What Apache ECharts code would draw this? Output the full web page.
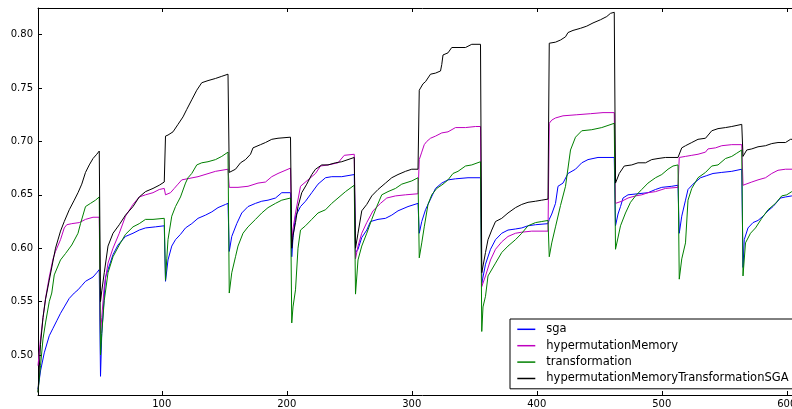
<!DOCTYPE html>
<html><head><meta charset="utf-8">
<script src="https://cdn.jsdelivr.net/npm/echarts@6/dist/echarts.min.js"></script>
<style>html,body{margin:0;padding:0;background:#fff;overflow:hidden;width:792px;height:409px}#c{width:812px;height:409px}</style>
</head><body><div id="c"></div>
<script>
const seriesNames = ['sga', 'hypermutationMemory', 'transformation', 'hypermutationMemoryTransformationSGA'];
const seriesColors = ['#0000ff', '#bf00bf', '#008000', '#000000'];
const xTicks = [100, 200, 300, 400, 500, 600];
const yTicks = [0.50, 0.55, 0.60, 0.65, 0.70, 0.75, 0.80];
const xRange = [1, 616];
const yRange = [0.4625, 0.825];

const sga = [
[1,0.468],[3,0.485],[6,0.502],[10,0.518],[13,0.525],[16,0.532],[19,0.539],[22,0.545],[26,0.553],[30,0.558],[33,0.561],[36,0.565],[39,0.569],[45,0.573],[48,0.577],[50,0.580],
[51,0.48],[52,0.52],[55,0.573],[61,0.594],[65,0.603],[71,0.611],[77,0.614],[82,0.617],[87,0.619],[95,0.620],[102,0.621],
[103,0.569],[105,0.589],[108,0.602],[111,0.608],[115,0.613],[119,0.619],[124,0.623],[129,0.628],[135,0.631],[140,0.634],[145,0.638],[151,0.641],[153,0.642],
[154,0.597],[156,0.611],[160,0.623],[164,0.633],[169,0.639],[175,0.642],[180,0.644],[185,0.645],[191,0.647],[196,0.652],[203,0.652],
[204,0.592],[205,0.610],[207,0.630],[211,0.639],[215,0.644],[220,0.652],[225,0.660],[231,0.666],[236,0.667],[244,0.667],[254,0.669],
[255,0.596],[257,0.599],[260,0.610],[264,0.617],[267,0.625],[273,0.627],[279,0.628],[284,0.631],[289,0.635],[297,0.639],[305,0.642],
[306,0.614],[308,0.625],[311,0.636],[315,0.646],[319,0.656],[324,0.661],[329,0.664],[335,0.665],[345,0.666],[355,0.666],
[356,0.567],[359,0.585],[363,0.599],[367,0.608],[372,0.614],[377,0.617],[383,0.618],[388,0.619],[393,0.621],[399,0.622],[409,0.623],
[410,0.627],[412,0.632],[415,0.642],[417,0.658],[421,0.661],[425,0.670],[431,0.674],[436,0.680],[441,0.683],[449,0.685],[462,0.685],
[463,0.621],[465,0.632],[467,0.639],[469,0.647],[473,0.650],[489,0.652],[495,0.655],[500,0.657],[508,0.658],[513,0.659],
[514,0.614],[516,0.630],[519,0.645],[521,0.655],[525,0.660],[531,0.666],[536,0.668],[541,0.670],[548,0.671],[556,0.672],[564,0.674],
[565,0.582],[566,0.608],[569,0.619],[573,0.624],[577,0.626],[581,0.630],[585,0.635],[589,0.639],[595,0.647],[599,0.648],[604,0.649],[610,0.650],[616,0.651]
];

const hypermutationMemory = [
[1,0.49],[3,0.515],[5,0.535],[7,0.553],[10,0.573],[13,0.590],[15,0.597],[19,0.608],[22,0.619],[24,0.622],[28,0.623],[34,0.624],[39,0.627],[45,0.629],[50,0.629],
[51,0.52],[52,0.535],[54,0.564],[57,0.586],[61,0.600],[66,0.614],[71,0.630],[77,0.641],[82,0.648],[87,0.650],[93,0.652],[98,0.655],[102,0.656],
[103,0.650],[107,0.652],[110,0.656],[113,0.660],[116,0.664],[129,0.667],[143,0.672],[153,0.674],
[154,0.657],[161,0.657],[169,0.658],[177,0.661],[183,0.662],[188,0.667],[193,0.670],[203,0.675],
[204,0.605],[205,0.618],[207,0.633],[211,0.658],[213,0.660],[217,0.664],[223,0.670],[227,0.677],[233,0.678],[241,0.680],[246,0.687],[254,0.688],
[255,0.590],[257,0.602],[260,0.614],[264,0.624],[269,0.635],[275,0.642],[280,0.647],[287,0.649],[295,0.650],[305,0.651],
[306,0.683],[308,0.690],[310,0.697],[312,0.700],[315,0.703],[319,0.705],[324,0.708],[329,0.709],[335,0.713],[343,0.713],[351,0.714],[355,0.714],
[356,0.564],[359,0.574],[363,0.589],[367,0.599],[372,0.606],[377,0.611],[383,0.614],[388,0.615],[396,0.616],[409,0.616],
[410,0.717],[412,0.720],[415,0.722],[421,0.724],[432,0.725],[443,0.726],[453,0.727],[462,0.727],
[463,0.642],[468,0.644],[473,0.647],[479,0.649],[484,0.650],[489,0.652],[495,0.653],[503,0.656],[513,0.657],
[514,0.685],[519,0.686],[524,0.687],[529,0.688],[535,0.690],[537,0.693],[543,0.694],[548,0.696],[556,0.697],[564,0.697],
[565,0.659],[572,0.662],[577,0.664],[583,0.666],[588,0.670],[593,0.673],[599,0.674],[610,0.674],[616,0.675]
];

const transformation = [
[1,0.465],[3,0.49],[5,0.515],[7,0.53],[10,0.55],[12,0.558],[14,0.575],[19,0.589],[23,0.595],[28,0.603],[33,0.614],[35,0.623],[39,0.639],[43,0.642],[47,0.645],[50,0.648],
[51,0.50],[52,0.52],[54,0.551],[57,0.577],[61,0.592],[66,0.603],[71,0.613],[77,0.620],[82,0.623],[87,0.627],[93,0.627],[102,0.628],
[103,0.570],[104,0.59],[105,0.608],[108,0.630],[111,0.639],[115,0.648],[119,0.661],[121,0.666],[124,0.670],[128,0.678],[132,0.680],[137,0.681],[143,0.683],[148,0.686],[153,0.690],
[154,0.558],[156,0.577],[159,0.592],[161,0.602],[165,0.614],[169,0.620],[175,0.627],[180,0.633],[185,0.638],[191,0.642],[196,0.645],[203,0.647],
[204,0.530],[205,0.545],[207,0.561],[209,0.600],[211,0.617],[215,0.621],[220,0.627],[225,0.633],[231,0.636],[236,0.642],[241,0.647],[247,0.653],[254,0.659],
[255,0.557],[257,0.589],[260,0.602],[264,0.614],[268,0.627],[272,0.639],[276,0.650],[281,0.653],[287,0.656],[292,0.660],[300,0.663],[305,0.666],
[306,0.591],[308,0.605],[310,0.620],[313,0.641],[316,0.650],[320,0.656],[325,0.660],[329,0.664],[333,0.670],[337,0.672],[343,0.677],[348,0.678],[355,0.681],
[356,0.522],[357,0.545],[359,0.555],[361,0.574],[367,0.586],[372,0.596],[377,0.602],[383,0.608],[388,0.614],[393,0.621],[399,0.624],[404,0.625],[409,0.626],
[410,0.592],[412,0.605],[415,0.620],[419,0.640],[423,0.658],[427,0.692],[431,0.704],[436,0.710],[444,0.711],[452,0.713],[462,0.717],
[463,0.599],[467,0.621],[471,0.633],[475,0.643],[479,0.649],[484,0.655],[489,0.661],[495,0.666],[500,0.669],[505,0.674],[509,0.677],[513,0.678],
[514,0.571],[516,0.590],[519,0.605],[521,0.645],[524,0.656],[529,0.666],[535,0.671],[540,0.677],[545,0.678],[551,0.684],[556,0.686],[560,0.689],[564,0.692],
[565,0.574],[567,0.605],[571,0.614],[575,0.619],[580,0.628],[585,0.636],[591,0.642],[596,0.649],[600,0.650],[604,0.653],[610,0.656],[616,0.658]
];

const hypermutationMemoryTransformationSGA = [
[1,0.465],[3,0.51],[5,0.535],[7,0.552],[10,0.570],[15,0.600],[19,0.616],[22,0.625],[26,0.636],[30,0.645],[33,0.652],[36,0.660],[39,0.671],[42,0.678],[45,0.684],[48,0.688],[50,0.691],
[51,0.55],[52,0.56],[54,0.577],[57,0.602],[61,0.614],[66,0.622],[71,0.631],[77,0.639],[82,0.648],[87,0.653],[93,0.656],[98,0.659],[102,0.662],
[103,0.705],[105,0.706],[109,0.709],[113,0.716],[117,0.723],[120,0.730],[124,0.739],[128,0.748],[132,0.755],[137,0.757],[143,0.759],[148,0.761],[153,0.763],
[154,0.671],[159,0.674],[163,0.680],[167,0.683],[171,0.688],[173,0.694],[179,0.697],[183,0.699],[188,0.702],[193,0.703],[203,0.704],
[204,0.600],[205,0.612],[207,0.624],[209,0.639],[212,0.652],[216,0.660],[220,0.669],[223,0.674],[228,0.678],[233,0.678],[239,0.680],[244,0.681],[249,0.683],[254,0.685],
[255,0.600],[257,0.614],[260,0.635],[264,0.641],[268,0.649],[273,0.655],[279,0.661],[284,0.666],[289,0.669],[295,0.672],[300,0.674],[305,0.674],
[306,0.748],[307,0.750],[309,0.754],[311,0.756],[315,0.763],[319,0.764],[323,0.766],[324,0.772],[325,0.781],[329,0.783],[332,0.788],[337,0.788],[343,0.788],[348,0.791],[355,0.791],
[356,0.577],[359,0.596],[361,0.608],[364,0.617],[367,0.625],[372,0.628],[377,0.633],[383,0.638],[388,0.641],[393,0.643],[399,0.644],[404,0.645],[409,0.646],
[410,0.792],[415,0.793],[419,0.795],[423,0.798],[425,0.802],[429,0.804],[435,0.806],[440,0.808],[445,0.811],[451,0.814],[456,0.817],[459,0.820],[462,0.821],
[463,0.661],[466,0.670],[470,0.677],[476,0.678],[481,0.680],[487,0.680],[492,0.683],[497,0.684],[503,0.685],[513,0.685],
[514,0.686],[516,0.694],[519,0.696],[524,0.699],[529,0.702],[535,0.703],[540,0.710],[545,0.712],[551,0.713],[556,0.714],[564,0.716],
[565,0.686],[568,0.692],[572,0.693],[577,0.695],[583,0.696],[588,0.698],[593,0.699],[599,0.699],[603,0.702],[610,0.702],[616,0.703]
];

const allData = [sga, hypermutationMemory, transformation, hypermutationMemoryTransformationSGA];
const FONT = 'DejaVu Sans';

function xAxisCfg(pos, showLabel) {
  return {
    type: 'value', position: pos, min: xRange[0], max: xRange[1],
    axisLine: { show: true, onZero: false, lineStyle: { color: '#000', width: 1 } },
    axisTick: { show: true, inside: true, length: 4, customValues: xTicks, lineStyle: { color: '#000' } },
    axisLabel: { show: showLabel, customValues: xTicks, fontSize: 10, fontFamily: FONT, color: '#000', margin: 4 },
    splitLine: { show: false }
  };
}
function yAxisCfg(pos, showLabel) {
  return {
    type: 'value', position: pos, min: yRange[0], max: yRange[1],
    axisLine: { show: true, onZero: false, lineStyle: { color: '#000', width: 1 } },
    axisTick: { show: true, inside: true, length: 4, customValues: yTicks, lineStyle: { color: '#000' } },
    axisLabel: { show: showLabel, customValues: yTicks, fontSize: 10, fontFamily: FONT, color: '#000', margin: 5,
      formatter: v => v.toFixed(2) },
    splitLine: { show: false }
  };
}

const chart = echarts.init(document.getElementById('c'), null, { renderer: 'canvas' });
chart.setOption({
  animation: false,
  backgroundColor: '#fff',
  grid: { left: 38, top: 8, width: 768.75, height: 387, containLabel: false },
  xAxis: [xAxisCfg('bottom', true), xAxisCfg('top', false)],
  yAxis: [yAxisCfg('left', true), yAxisCfg('right', false)],
  legend: {
    data: seriesNames, orient: 'vertical', left: 510, top: 319,
    icon: 'rect', itemWidth: 18, itemHeight: 1.5, itemGap: 2.4,
    padding: [3.3, 12, 3.3, 7.3],
    borderColor: '#000', borderWidth: 1, borderRadius: 0, backgroundColor: '#fff',
    textStyle: { fontSize: 11.5, fontFamily: FONT, color: '#000', lineHeight: 14, padding: [0, 0, 0, 6] }
  },
  series: seriesNames.map((n, i) => ({
    name: n, type: 'line', data: allData[i], xAxisIndex: 0, yAxisIndex: 0,
    symbol: 'none', showSymbol: false, clip: true,
    lineStyle: { width: 1, color: seriesColors[i] },
    itemStyle: { color: seriesColors[i] },
    emphasis: { disabled: true }
  }))
});
</script></body></html>
